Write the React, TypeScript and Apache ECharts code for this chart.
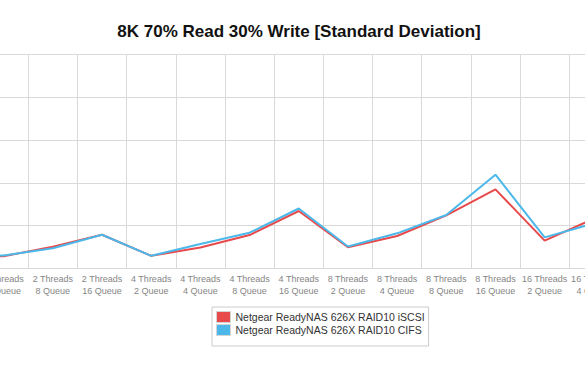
import React, { useEffect, useRef } from "react";
import * as echarts from "echarts";

const titleText = "8K 70% Read 30% Write [Standard Deviation]";

const categories = [
  "2 Threads\n2 Queue",
  "2 Threads\n4 Queue",
  "2 Threads\n8 Queue",
  "2 Threads\n16 Queue",
  "4 Threads\n2 Queue",
  "4 Threads\n4 Queue",
  "4 Threads\n8 Queue",
  "4 Threads\n16 Queue",
  "8 Threads\n2 Queue",
  "8 Threads\n4 Queue",
  "8 Threads\n8 Queue",
  "8 Threads\n16 Queue",
  "16 Threads\n2 Queue",
  "16 Threads\n4 Queue",
];

const iscsiName = "Netgear ReadyNAS 626X RAID10 iSCSI";
const cifsName = "Netgear ReadyNAS 626X RAID10 CIFS";

const iscsiValues = [12.3, 14.4, 25.5, 39.4, 14.8, 24.5, 39.1, 67.2, 24.8, 38.0, 62.1, 92.5, 32.5, 58.2];
const cifsValues = [13.4, 15.2, 23.6, 39.4, 14.8, 28.6, 41.8, 70.1, 25.7, 41.1, 62.5, 109.6, 36.4, 52.7];

const yMin = 0;
const yMax = 250;
const yInterval = 50;

const RED = "#e84a4c";
const BLUE = "#4cb8ea";
const GRID = "#d9d9d9";
const FONT = "'Liberation Sans', Arial, Helvetica, sans-serif";

export default function App() {
  const ref = useRef<HTMLDivElement>(null);

  useEffect(() => {
    if (!ref.current) return;
    const chart = echarts.init(ref.current, undefined, { renderer: "svg" });
    chart.setOption({
      animation: false,
      backgroundColor: "#ffffff",
      textStyle: { fontFamily: FONT },
      graphic: [
        {
          type: "text",
          x: 299,
          y: 31,
          style: {
            text: titleText,
            textAlign: "center",
            textVerticalAlign: "middle",
            font: `bold 17px ${FONT}`,
            fill: "#111111",
          },
        },
      ],
      legend: {
        orient: "vertical",
        left: 212,
        top: 307,
        padding: [4, 4, 10, 4],
        itemGap: 1,
        itemWidth: 14,
        itemHeight: 11,
        icon: "rect",
        borderColor: "#cccccc",
        borderWidth: 1,
        backgroundColor: "#ffffff",
        itemStyle: { borderColor: "#d4d4d4", borderWidth: 1 },
        textStyle: { fontSize: 10.5, color: "#333333", fontFamily: FONT, lineHeight: 12 },
        data: [iscsiName, cifsName],
      },
      grid: {
        left: -70.1,
        right: -33.4,
        top: 54.5,
        bottom: 103.5,
        containLabel: false,
        outerBoundsMode: "none",
      },
      xAxis: {
        type: "category",
        data: categories,
        boundaryGap: true,
        axisTick: { show: false },
        axisLine: { show: true, lineStyle: { color: GRID, width: 1 } },
        splitLine: { show: true, interval: 0, lineStyle: { color: GRID, width: 1 } },
        axisLabel: {
          interval: 0,
          fontSize: 9,
          color: "#858585",
          lineHeight: 12,
          margin: 4,
          fontFamily: FONT,
        },
      },
      yAxis: {
        type: "value",
        min: yMin,
        max: yMax,
        interval: yInterval,
        axisLabel: { show: false },
        axisLine: { show: false },
        axisTick: { show: false },
        splitLine: { show: true, lineStyle: { color: GRID, width: 1 } },
      },
      series: [
        {
          name: iscsiName,
          type: "line",
          data: iscsiValues,
          symbol: "none",
          color: RED,
          lineStyle: { color: RED, width: 2 },
        },
        {
          name: cifsName,
          type: "line",
          data: cifsValues,
          symbol: "none",
          color: BLUE,
          lineStyle: { color: BLUE, width: 2 },
        },
      ],
    });
    return () => chart.dispose();
  }, []);

  return (
    <div
      ref={ref}
      style={{ position: "fixed", left: 0, top: 0, width: 585, height: 372, overflow: "hidden" }}
    />
  );
}
